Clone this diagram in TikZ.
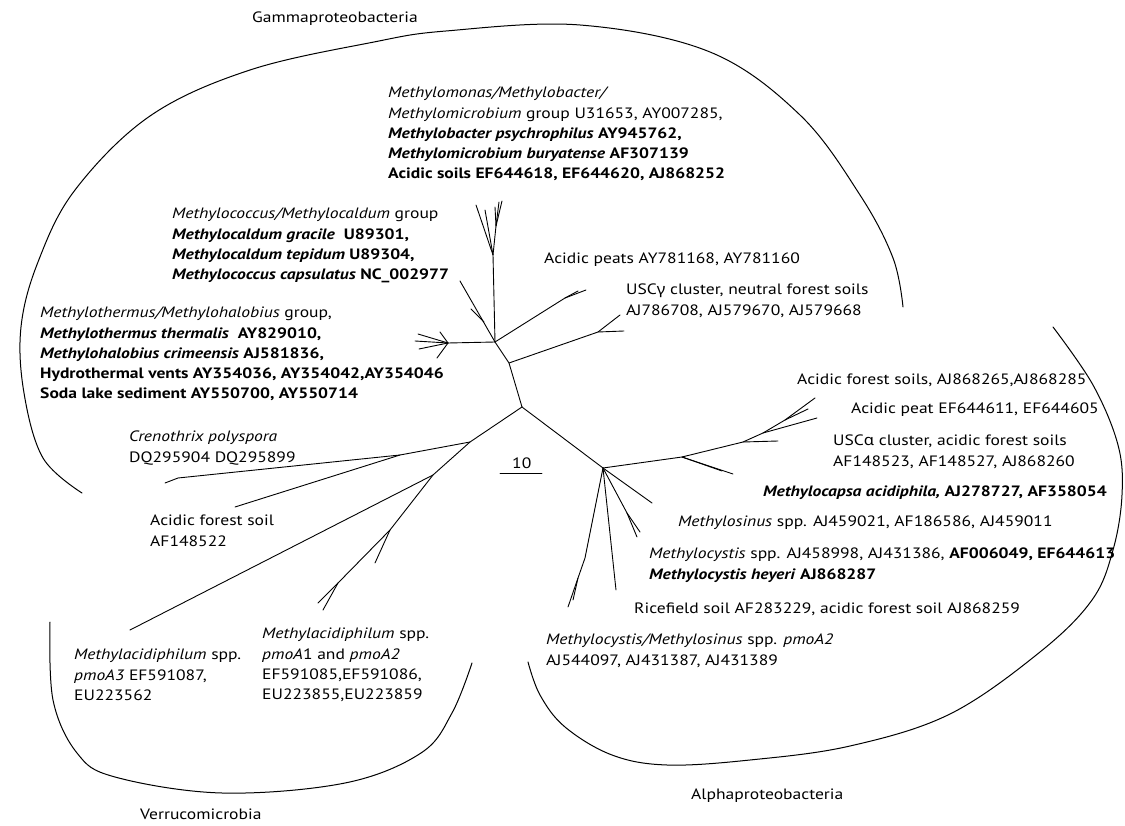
\documentclass[tikz,border=0pt]{standalone}
\usepackage{fontspec}
\setmainfont{PT Sans}[FakeStretch=1.17]
\newfontfamily\grk{Noto Sans}[FakeStretch=1.1]
\newcommand\fs{\fontsize{15}{20.2}\selectfont}
\begin{document}
\begin{tikzpicture}[x=1pt,y=-1pt,
  lbl/.style={anchor=north west, inner sep=0pt, align=left, font=\fs},
  br/.style={line width=0.9pt, line cap=round, line join=round},
  arcl/.style={line width=1pt, line cap=round}]
\useasboundingbox (0,0) rectangle (1125,826);

% ---------------- texts ----------------
\node[lbl] (gam) at (252,12) {Gammaproteobacteria};
\node[lbl] (mmon) at (388,87) {\textit{Methylomonas/Methylobacter/}\\
\textit{Methylomicrobium} group U31653, AY007285,\\
\textbf{\textit{Methylobacter psychrophilus} AY945762,}\\
\textbf{\textit{Methylomicrobium buryatense} AF307139}\\
\textbf{Acidic soils EF644618, EF644620, AJ868252}};
\node[lbl] (mcoc) at (172,208) {\textit{Methylococcus/Methylocaldum} group\\
\textbf{\textit{Methylocaldum gracile}~ U89301,}\\
\textbf{\textit{Methylocaldum tepidum} U89304,}\\
\textbf{\textit{Methylococcus capsulatus} NC\_002977}};
\node[lbl] (mthe) at (40,307) {\textit{Methylothermus/Methylohalobius} group,\\
\textbf{\textit{Methylothermus thermalis}~ AY829010,}\\
\textbf{\textit{Methylohalobius crimeensis} AJ581836,}\\
\textbf{Hydrothermal vents AY354036, AY354042,AY354046}\\
\textbf{Soda lake sediment AY550700, AY550714}};
\node[lbl] (cren) at (129,431) {\textit{Crenothrix polyspora}\\DQ295904 DQ295899};
\node[lbl] (afs) at (150,515) {Acidic forest soil\\AF148522};
\node[lbl] (ma3) at (74,649) {\textit{Methylacidiphilum} spp.\\\textit{pmoA3} EF591087,\\EU223562};
\node[lbl] (ma12) at (262,628) {\textit{Methylacidiphilum} spp.\\\textit{pmoA}1 and \textit{pmoA2}\\EF591085,EF591086,\\EU223855,EU223859};
\node[lbl] (ver) at (140,809) {Verrucomicrobia};
\node[lbl] (alp) at (691,789) {Alphaproteobacteria};
\node[lbl] (apeats) at (544,253) {Acidic peats AY781168, AY781160};
\node[lbl] (uscg) at (626,284) {USC{\grk γ} cluster, neutral forest soils\\AJ786708, AJ579670, AJ579668};
\node[lbl] (afs2) at (797,374) {Acidic forest soils, AJ868265,AJ868285};
\node[lbl] (apeat) at (851,403) {Acidic peat EF644611, EF644605};
\node[lbl] (usca) at (833,435) {USC{\grk α} cluster, acidic forest soils\\AF148523, AF148527, AJ868260};
\node[lbl] (mcap) at (763,486) {\textbf{\textit{Methylocapsa acidiphila,} AJ278727, AF358054}};
\node[lbl] (msin) at (678,516) {\textit{Methylosinus} spp. AJ459021, AF186586, AJ459011};
\node[lbl] (mcys) at (649,548) {\textit{Methylocystis} spp. AJ458998, AJ431386, \textbf{AF006049, EF644613}\\
\textbf{\textit{Methylocystis heyeri} AJ868287}};
\node[lbl] (rice) at (634,603) {Ricefield soil AF283229, acidic forest soil AJ868259};
\node[lbl] (mcms) at (546,634) {\textit{Methylocystis/Methylosinus} spp. \textit{pmoA2}\\AJ544097, AJ431387, AJ431389};
\node[lbl] (ten) at (512,458) {10};
\coordinate (barL) at (500,473);
\coordinate (barR) at (542,473);
\draw[br] (barL) -- (barR);

% ---------------- group arcs ----------------
\draw[arcl] plot[smooth, tension=0.6] coordinates {(82,493) (43,458) (24,393) (21,327) (38,262) (75,190) (150,116) (250,70) (374,42) (446,31) (580,25) (710,52) (800,115) (860,195) (893,258) (903,307)};
\draw[arcl] plot[smooth, tension=0.6] coordinates {(1053,327) (1093,385) (1118,445) (1122,495) (1113,550) (1092,600) (1040,652) (950,714) (850,746) (750,760) (667,765) (612,755) (565,727) (540,695) (528,662)};
\draw[arcl] plot[smooth, tension=0.6] coordinates {(50,622) (53,700) (77,753) (115,777) (222,793) (345,783) (421,753) (452,713) (472,663)};

% ---------------- tree ----------------
\coordinate (R) at (522,407);
% gamma
\coordinate (G1) at (509,363);
\coordinate (U1) at (598,332);
\coordinate (U2) at (620,315);
\coordinate (U3) at (624,331);
\coordinate (A) at (495,342);
\coordinate (M0) at (493,255);
\coordinate (M1) at (496,226);
\coordinate (m1) at (476,205);
\coordinate (m2) at (485,210);
\coordinate (m3) at (495,207);
\coordinate (m4) at (499,202);
\coordinate (m5) at (502,201);
\coordinate (C0) at (460,281);
\coordinate (c1) at (484,322);
\coordinate (c2) at (471,309);
\coordinate (T0) at (448,343);
\coordinate (t1) at (418,334);
\coordinate (t2) at (415,341);
\coordinate (t3) at (419,349);
\coordinate (t4) at (440,332);
\coordinate (t5) at (437,358);
\coordinate (P1) at (565,298);
\coordinate (p1) at (578,291);
\coordinate (p2) at (586,290);
\draw[br] (R) -- (G1) -- (A) -- (M0) -- (M1);
\draw[br] (M0) -- (m1); \draw[br] (M0) -- (m2);
\draw[br] (M1) -- (m3); \draw[br] (M1) -- (m4); \draw[br] (M1) -- (m5);
\draw[br] (G1) -- (U1) -- (U2); \draw[br] (U1) -- (U3);
\draw[br] (A) -- (C0); \draw[br] (c1) -- (c2);
\draw[br] (A) -- (T0);
\foreach \t in {t1,t2,t3,t4,t5} \draw[br] (T0) -- (\t);
\draw[br] (A) -- (P1) -- (p1); \draw[br] (P1) -- (p2);
% verrucomicrobia + crenothrix
\coordinate (B) at (470,442);
\coordinate (C) at (400,455);
\coordinate (cr1) at (178,478);
\coordinate (cr2) at (165,483);
\coordinate (af) at (235,507);
\coordinate (D) at (433,475);
\coordinate (v3) at (130,630);
\coordinate (E) at (390,530);
\coordinate (e1) at (375,563);
\coordinate (Ef) at (338,583);
\coordinate (e2) at (318,603);
\coordinate (e3) at (323,610);
\draw[br] (R) -- (B) -- (C) -- (cr1) -- (cr2);
\draw[br] (C) -- (af);
\draw[br] (B) -- (D) -- (v3);
\draw[br] (D) -- (E) -- (Ef) -- (e2); \draw[br] (Ef) -- (e3);
\draw[br] (E) -- (e1);
% alpha
\coordinate (F) at (603,468);
\coordinate (G) at (682,457);
\coordinate (g1) at (722,471);
\coordinate (g2) at (733,474);
\coordinate (H) at (743,442);
\coordinate (h1) at (778,441);
\coordinate (J) at (763,433);
\coordinate (j1) at (817,418);
\coordinate (K) at (785,420);
\coordinate (k1) at (815,398);
\coordinate (k2) at (808,409);
\coordinate (mc) at (652,503);
\coordinate (S) at (627,513);
\coordinate (s1) at (637,537);
\coordinate (s2) at (640,532);
\coordinate (my) at (616,590);
\coordinate (L) at (585,558);
\coordinate (L2) at (578,578);
\coordinate (l1) at (568,607);
\coordinate (l2) at (573,600);
\draw[br] (R) -- (F) -- (G) -- (H) -- (h1);
\draw[br] (G) -- (g1); \draw[br] (G) -- (g2);
\draw[br] (H) -- (J) -- (j1); \draw[br] (J) -- (K) -- (k1); \draw[br] (K) -- (k2);
\draw[br] (F) -- (mc);
\draw[br] (F) -- (S) -- (s1); \draw[br] (S) -- (s2);
\draw[br] (F) -- (my);
\draw[br] (F) -- (L) -- (L2) -- (l1); \draw[br] (L2) -- (l2);
\end{tikzpicture}
\end{document}
